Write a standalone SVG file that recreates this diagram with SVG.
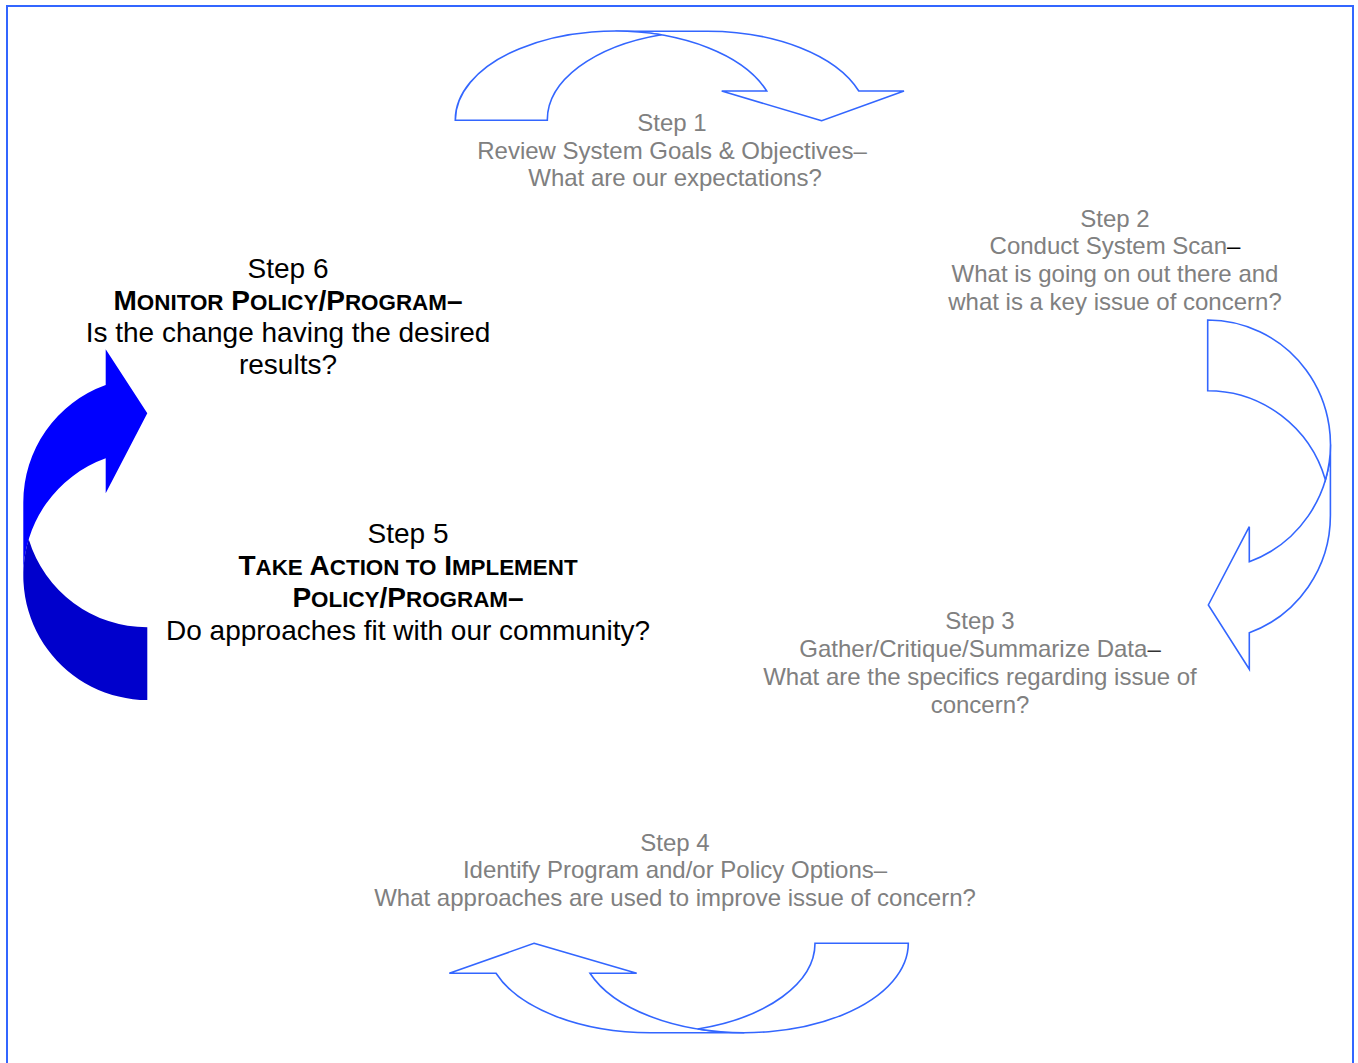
<svg xmlns="http://www.w3.org/2000/svg" width="1358" height="1063" viewBox="0 0 1358 1063">
<style>
  text { font-family: "Liberation Sans", Arial, sans-serif; text-anchor: middle; }
  .g { fill: #808080; font-size: 24px; }
  .k { fill: #000000; font-size: 28px; }
  .b { font-weight: bold; }
  .sc { font-size: 22.4px; }
  .outline { fill: #ffffff; stroke: #3366ff; stroke-width: 1.6; stroke-linejoin: miter; }
</style>
<rect x="7" y="6" width="1346" height="1080" fill="#ffffff" stroke="#3366ff" stroke-width="2"/>

<g id="connectors">
  <g id="arrow-1-2">
    <path class="outline" d="M821.7,120.7 L721.7,91 L766.7,91 A160.1,89 0 0 0 615.4,31.3 L707.4,31.3 A160.1,89 0 0 1 858.8,91 L904,91 Z"/>
    <path class="outline" d="M661.4,34.7 A160.1,89 0 0 0 547.3,120.3 L455.3,120.3 A160.1,89 0 0 1 661.4,34.7 Z"/>
  </g>
  <g id="arrow-2-3">
    <path class="outline" d="M1208.3,605 L1249.3,526.7 L1249.3,561.7 A122.7,124.5 0 0 0 1330.4,444.5 L1330.4,515.2 A122.7,124.5 0 0 1 1249.3,632.7 L1249.3,669.3 Z"/>
    <path class="outline" d="M1325.4,479.9 A122.7,124.5 0 0 0 1207.7,390.7 L1207.7,320 A122.7,124.5 0 0 1 1325.4,479.9 Z"/>
  </g>
  <g id="arrow-4-5">
    <path class="outline" d="M534,943.3 L636.7,973.3 L590,973.3 A164,89.4 0 0 0 744.3,1032.7 L651,1032.7 A164,89.4 0 0 1 496,973.3 L449.3,973.3 Z"/>
    <path class="outline" d="M697.7,1029 A164,89.4 0 0 0 815,943.3 L908.3,943.3 A164,89.4 0 0 1 697.7,1029 Z"/>
  </g>
  <g id="arrow-5-6">
    <path fill="#0000ff" d="M147.3,413.3 L105.7,349.3 L105.7,385 A124,124.5 0 0 0 23.3,502.8 L23.3,575.5 A124,124.5 0 0 1 105.7,458.3 L105.7,493.3 Z"/>
    <path fill="#0000cc" d="M28.7,539.2 A124,124.5 0 0 0 147.3,627.3 L147.3,700 A124,124.5 0 0 1 28.7,539.2 Z"/>
  </g>
</g>

<g id="step1">
  <text class="g" x="672" y="131">Step 1</text>
  <text class="g" x="672" y="158.5">Review System Goals &amp; Objectives–</text>
  <text class="g" x="675" y="186">What are our expectations?</text>
</g>
<g id="step2">
  <text class="g" x="1115" y="226.5">Step 2</text>
  <text class="g" x="1115" y="254">Conduct System Scan<tspan fill="#000000">–</tspan></text>
  <text class="g" x="1115" y="282">What is going on out there and</text>
  <text class="g" x="1115" y="310">what is a key issue of concern?</text>
</g>
<g id="step3">
  <text class="g" x="980" y="628.5">Step 3</text>
  <text class="g" x="980" y="656.5">Gather/Critique/Summarize Data<tspan fill="#333333">–</tspan></text>
  <text class="g" x="980" y="684.5">What are the specifics regarding issue of</text>
  <text class="g" x="980" y="712.5">concern?</text>
</g>
<g id="step4">
  <text class="g" x="675" y="850.5">Step 4</text>
  <text class="g" x="675" y="878">Identify Program and/or Policy Options–</text>
  <text class="g" x="675" y="905.5">What approaches are used to improve issue of concern?</text>
</g>
<g id="step5">
  <text class="k" x="408" y="542.5">Step 5</text>
  <text class="k b" x="408" y="575">T<tspan class="sc">AKE</tspan> A<tspan class="sc">CTION TO</tspan> I<tspan class="sc">MPLEMENT</tspan></text>
  <text class="k b" x="408" y="607">P<tspan class="sc">OLICY</tspan>/P<tspan class="sc">ROGRAM</tspan>–</text>
  <text class="k" x="408" y="639.5">Do approaches fit with our community?</text>
</g>
<g id="step6">
  <text class="k" x="288" y="277.5">Step 6</text>
  <text class="k b" x="288" y="310">M<tspan class="sc">ONITOR</tspan> P<tspan class="sc">OLICY</tspan>/P<tspan class="sc">ROGRAM</tspan>–</text>
  <text class="k" x="288" y="342">Is the change having the desired</text>
  <text class="k" x="288" y="373.5">results?</text>
</g>
</svg>
